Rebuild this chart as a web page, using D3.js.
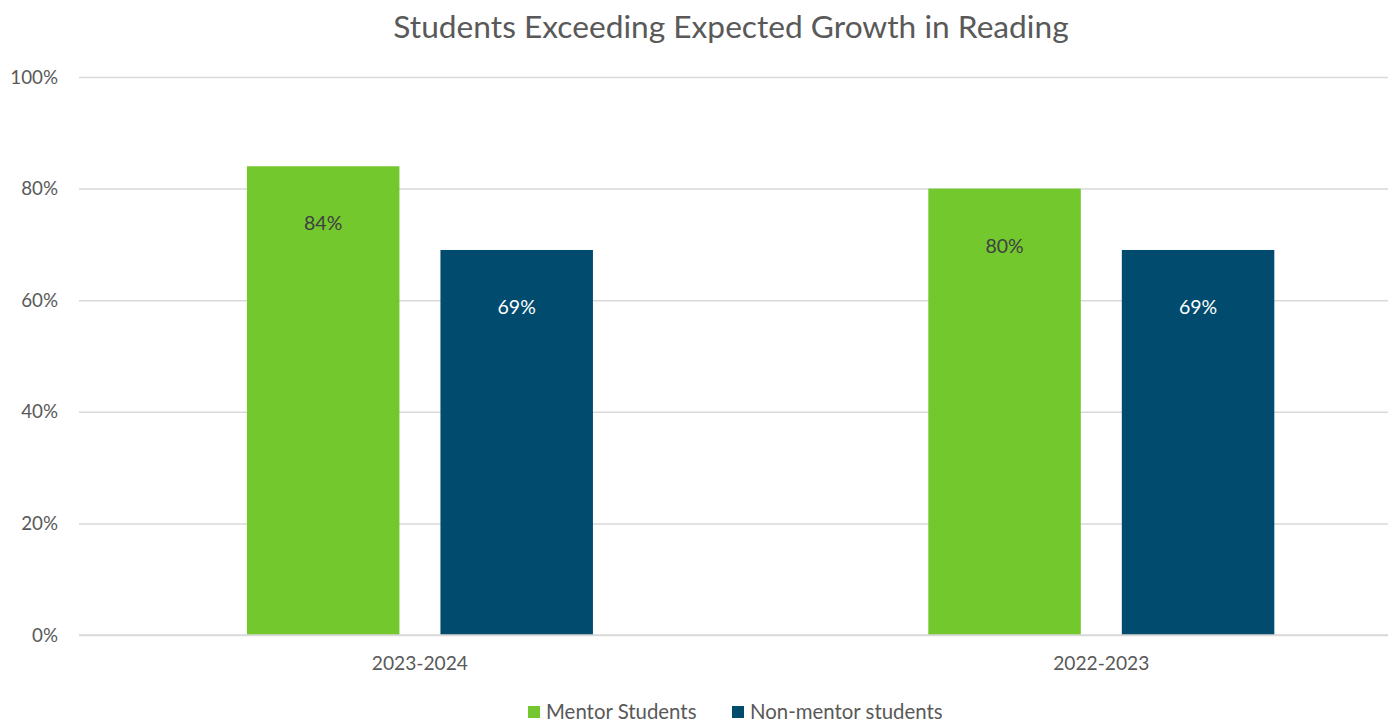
<!DOCTYPE html>
<html>
<head>
<meta charset="utf-8">
<script src="https://cdn.jsdelivr.net/npm/d3@7"></script>
<style>
  body { margin: 0; background: #fff; }
  svg { display: block; }
  text { font-family: Lato, "Open Sans", sans-serif; }
</style>
</head>
<body>
<svg id="chart" width="1394" height="722"></svg>
<script>
const categories = ["2023-2024", "2022-2023"];
const seriesNames = ["Mentor Students", "Non-mentor students"];
const mentorValues = [84, 80];
const nonMentorValues = [69, 69];
const yTicks = [0, 20, 40, 60, 80, 100];
const title = "Students Exceeding Expected Growth in Reading";
const colors = ["#73C82E", "#004B6E"];
const labelColors = ["#404040", "#ffffff"];

const svg = d3.select("#chart");
const plotLeft = 79, plotRight = 1388, y0 = 635, y100 = 77;

const y = d3.scaleLinear().domain([0, 100]).range([y0, y100]);
const x0 = d3.scaleBand().domain(categories).range([79.25, 1442]).padding(0);
const step = x0.bandwidth();
const groupW = 346;
const x1 = d3.scaleBand().domain(seriesNames)
  .range([(step - groupW) / 2, (step + groupW) / 2])
  .paddingInner(0.212).paddingOuter(0);

// title
svg.append("text").attr("x", 731).attr("y", 38)
  .attr("text-anchor", "middle").attr("fill", "#595959")
  .style("font-size", "31.7px").text(title);

// gridlines + y axis
const yAxis = d3.axisLeft(y).tickValues(yTicks).tickSize(-(plotRight - plotLeft))
  .tickFormat(d => d + "%").tickPadding(21);
const gy = svg.append("g").attr("transform", `translate(${plotLeft},0)`).call(yAxis);
gy.select(".domain").remove();
gy.selectAll(".tick line").attr("stroke", "#d9d9d9").attr("stroke-width", 1.5);
gy.selectAll(".tick text").attr("fill", "#595959").style("font-size", "18.8px")
  .style("font-family", "Lato, 'Open Sans', sans-serif");

// bars
const data = categories.map((c, i) => ({ cat: c, vals: [mentorValues[i], nonMentorValues[i]] }));
const groups = svg.append("g").selectAll("g").data(data).join("g")
  .attr("transform", d => `translate(${x0(d.cat)},0)`);
groups.selectAll("rect").data(d => d.vals.map((v, j) => ({ v, j })))
  .join("rect")
  .attr("x", d => x1(seriesNames[d.j]))
  .attr("width", x1.bandwidth())
  .attr("y", d => y(d.v))
  .attr("height", d => y(0) - y(d.v))
  .attr("fill", d => colors[d.j]);
groups.selectAll("text.lbl").data(d => d.vals.map((v, j) => ({ v, j })))
  .join("text").attr("class", "lbl")
  .attr("x", d => x1(seriesNames[d.j]) + x1.bandwidth() / 2)
  .attr("y", d => y(d.v) + 64)
  .attr("text-anchor", "middle")
  .attr("fill", d => labelColors[d.j])
  .style("font-size", "19.5px")
  .text(d => d.v + "%");

// baseline
svg.append("line").attr("x1", plotLeft).attr("x2", plotRight)
  .attr("y1", y(0)).attr("y2", y(0)).attr("stroke", "#d9d9d9").attr("stroke-width", 1.5);

// x labels
svg.append("g").selectAll("text").data(categories).join("text")
  .attr("x", d => x0(d) + step / 2).attr("y", 670)
  .attr("text-anchor", "middle").attr("fill", "#595959")
  .style("font-size", "19.2px").text(d => d);

// legend
const legendX = [528, 732];
const leg = svg.append("g").selectAll("g").data(seriesNames).join("g")
  .attr("transform", (d, i) => `translate(${legendX[i]},706)`);
leg.append("rect").attr("width", 12).attr("height", 12).attr("fill", (d, i) => colors[i]);
leg.append("text").attr("x", 18).attr("y", 13).attr("fill", "#595959")
  .style("font-size", "20.4px").text(d => d);
</script>
</body>
</html>
